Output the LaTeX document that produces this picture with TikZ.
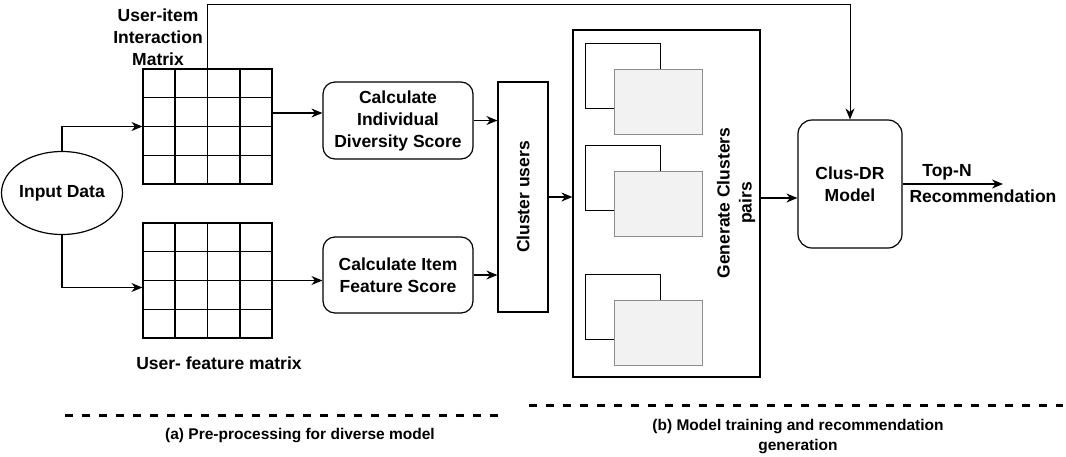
\documentclass[tikz,border=0pt]{standalone}
\usepackage{fontspec}
\setmainfont{Liberation Sans}
\usepackage{tikz}
\usetikzlibrary{shapes.geometric, positioning, arrows.meta, calc}

\begin{document}
\begin{tikzpicture}[
            x=1pt, y=-1pt,
            font=\fontsize{17.5}{22}\selectfont\bfseries,
            >={Stealth[length=11pt, width=9pt]}, % flecha rellena
            line width=1.2pt,
            box/.style={draw, rounded corners=12pt, align=center, minimum width=150pt},
            grid box/.style={draw, minimum width=129pt, minimum height=115pt},
            back card/.style={draw, fill=white, line width=1pt},
            front card/.style={draw=black!45, fill=black!5, line width=1pt},
            sep/.style={dash pattern=on 8pt off 9pt, line width=3pt},
            caption/.style={font=\fontsize{15.5}{20}\selectfont\bfseries, align=center}
        ]

        \useasboundingbox (0,0) rectangle (1066,456);

        % --- Datos de entrada ---
        \node[draw, ellipse, minimum width=104pt, minimum height=83pt, inner sep=0pt] (inp) at (62,193) {Input Data};

        % --- Matrices ---
        \node[grid box] (mtop) at (207.5,126.5) {};
        \node[grid box] (mbot) at (207.5,280.5) {};
        \foreach \m in {mtop, mbot} {
            \foreach \k in {1,2,3} {
                \draw ($(\m.north west)!\k/4!(\m.north east)$) -- ($(\m.south west)!\k/4!(\m.south east)$);
                \draw ($(\m.north west)!\k/4!(\m.south west)$) -- ($(\m.north east)!\k/4!(\m.south east)$);
            }
        }
        \node[align=center] (lbltop) at (158,37) {User-item\\Interaction\\Matrix};
        \node (lblbot) at (219,363) {User- feature matrix};

        % --- Puntuaciones ---
        \node[box, minimum height=77pt] (cds) at (398,120.5) {Calculate\\Individual\\Diversity Score};
        \node[box, minimum height=76pt] (cif) at (398,275) {Calculate Item\\Feature Score};

        % --- Agrupamiento ---
        \node[draw, minimum width=50pt, minimum height=230pt] (cu) at (523,197) {\rotatebox{90}{Cluster users}};

        \node[draw, minimum width=187pt, minimum height=347pt] (gen) at (666.5,203.5) {};
        \foreach \y in {43, 145, 274} {
            \draw[back card] (585,\y) rectangle ++(75,65);
            \draw[front card] (614,\y+26) rectangle ++(88,65);
        }
        \node[rotate=90, align=center] (genlbl) at (736,203) {Generate Clusters\\pairs};

        % --- Modelo ---
        \node[draw, rounded corners=14pt, align=center, minimum width=104pt, minimum height=128pt] (clus) at (850,184) {Clus-DR\\Model};
        \coordinate (topn) at (1003,184);
        \node (lbltopn) at (947,172) {Top-N};
        \node (lblrec) at (983,196) {Recommendation};

        % --- Flechas y Conexiones ---
        \coordinate (bin) at ([yshift=-7pt]mbot.west);
        \coordinate (tout) at ([yshift=13.5pt]mtop.east);
        \coordinate (gout) at ([yshift=5.5pt]gen.east);
        \draw[->] (inp.north) |- (mtop.west);
        \draw[->] (inp.south) |- (bin);
        \draw[->] (tout) -- (tout -| cds.west);
        \draw[->] (mbot.east) -- (mbot.east -| cif.west);
        \draw[->] (cds.east) -- (cds.east -| cu.west);
        \draw[->] (cif.east) -- (cif.east -| cu.west);
        \draw[->] (cu.east) -- (cu.east -| gen.west);
        \draw[->] (gout) -- (gout -| clus.west);
        \draw[->] (clus.east) -- (topn);
        \draw[->, line width=1pt] (mtop.north) -- ++(0,-64) -| (clus.north);

        % --- Separadores ---
        \draw[sep] (65,415) -- (503,415);
        \draw[sep] (529,405) -- (1063,405);
        \node[caption] (capa) at (300,436) {(a) Pre-processing for diverse model};
        \node[caption] (capb) at (798,437) {(b) Model training and recommendation\\generation};

        \end{tikzpicture}
\end{document}
